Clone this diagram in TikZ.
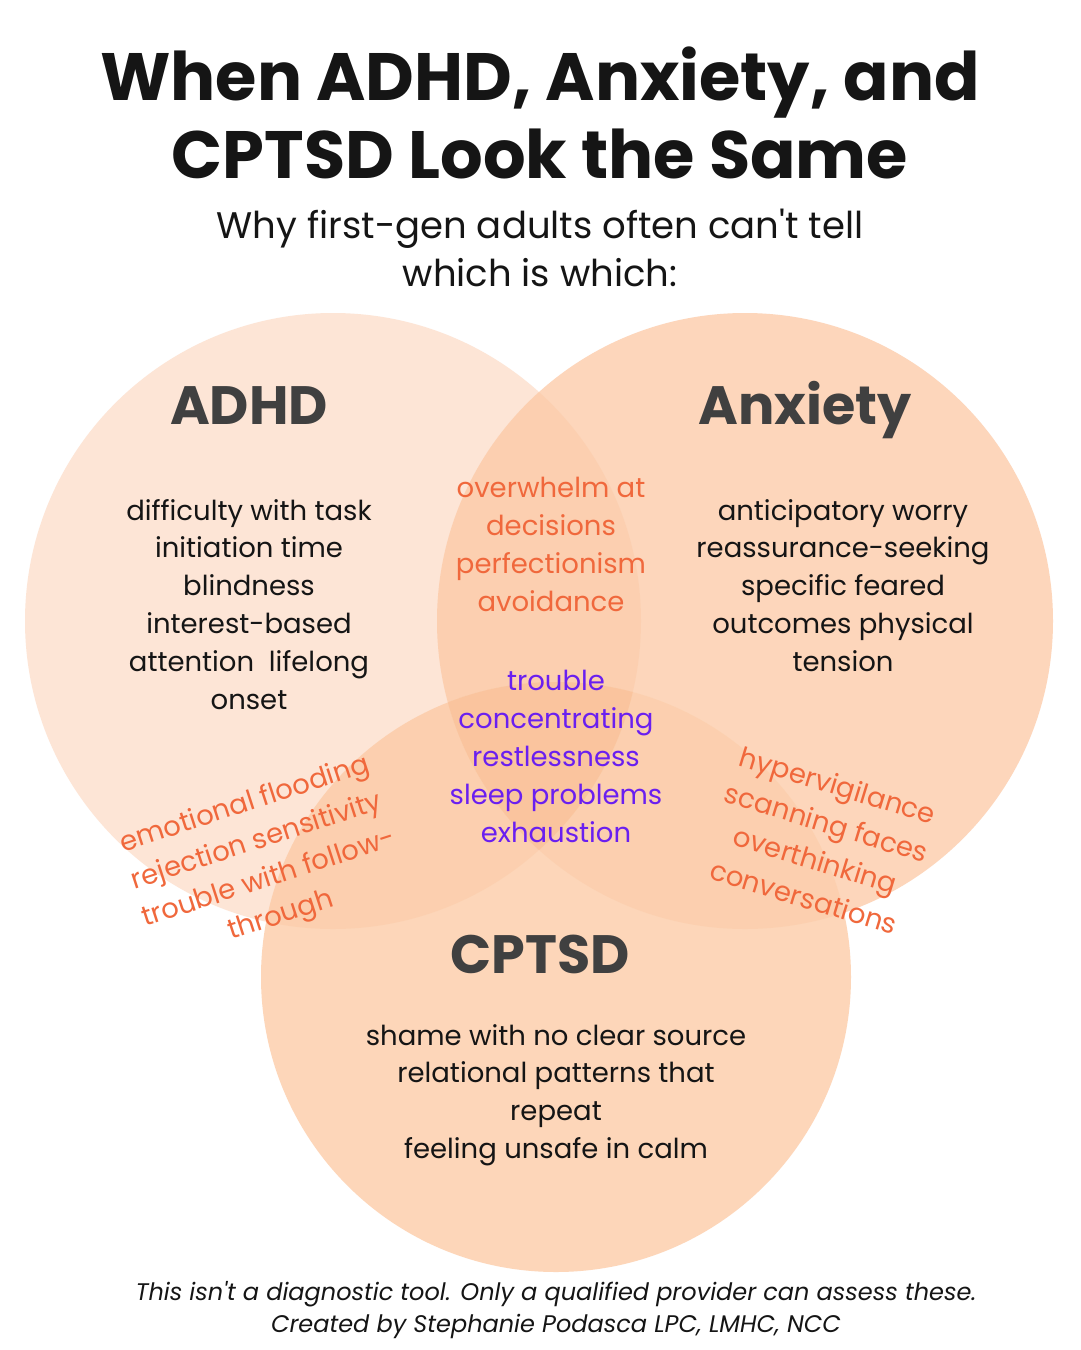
\documentclass[tikz,border=0pt]{standalone}
\usepackage{fontspec}
\setmainfont{Poppins}
\definecolor{peach}{HTML}{F9A66C}
\definecolor{cA}{HTML}{FDE5D6}
\definecolor{cX}{HTML}{FDD6BB}
\definecolor{cC}{HTML}{FDD6B9}
\definecolor{ink}{HTML}{151515}
\definecolor{lab}{HTML}{404040}
\definecolor{orng}{HTML}{F0683C}
\definecolor{purp}{HTML}{6A1FF0}
\tikzset{
  ttl/.style={font=\fontsize{67}{80}\selectfont\bfseries, text=ink, anchor=base, inner sep=0pt},
  sub/.style={font=\fontsize{37}{44}\selectfont, text=ink, anchor=base, inner sep=0pt},
  clab/.style={font=\fontsize{54}{64}\selectfont\bfseries, text=lab, anchor=base, inner sep=0pt},
  body/.style={font=\fontsize{27.5}{38}\selectfont, text=ink, anchor=base, inner sep=0pt},
  orb/.style={body, text=orng},
  pub/.style={body, text=purp},
  rot/.style={font=\fontsize{27.5}{39}\selectfont, text=orng, align=center, inner sep=0pt},
  foot/.style={font=\fontsize{24}{30}\selectfont\itshape, text=ink, anchor=base, inner sep=0pt},
  tint/.style={fill=peach, fill opacity=0.13}
}
\begin{document}
\begin{tikzpicture}[x=1pt,y=-1pt]
\useasboundingbox (0,0) rectangle (1080,1350);
\fill[white] (0,0) rectangle (1080,1350);
% circles
\coordinate (cadhd) at (333,621);
\coordinate (canx) at (745,621);
\coordinate (ccpt) at (556,977);
\fill[cA] (cadhd) circle (308pt);
\fill[cX] (canx) circle (308pt);
\fill[cC] (ccpt) circle (295pt);
% overlaps
\begin{scope}
  \clip (cadhd) circle (308pt);
  \fill[tint] (canx) circle (308pt);
  \fill[tint] (ccpt) circle (295pt);
\end{scope}
\begin{scope}
  \clip (canx) circle (308pt);
  \fill[tint] (ccpt) circle (295pt);
\end{scope}
% title
\node[ttl] (title1) at (540,100) {When ADHD, Anxiety, and};
\node[ttl] (title2) at (540,178) {CPTSD Look the Same};
\node[sub] (sub1) at (540,238) {Why first-gen adults often can\textquotesingle t tell};
\node[sub] (sub2) at (540,286) {which is which:};
% labels
\node[clab] (adhdlab) at (249,424) {ADHD};
\node[clab] (anxlab) at (805,424) {Anxiety};
\node[clab] (cptsdlab) at (540,973) {CPTSD};
% ADHD list
\foreach \t [count=\i] in {difficulty with task, initiation time, blindness, interest-based, attention\ \ lifelong, onset}
  \node[body] (adhd\i) at (249,{520+37.8*(\i-1)}) {\t};
% Anxiety list
\foreach \t [count=\i] in {anticipatory worry, reassurance-seeking, specific feared, outcomes physical, tension}
  \node[body] (anx\i) at (843,{520+37.8*(\i-1)}) {\t};
% ADHD & Anxiety overlap
\foreach \t [count=\i] in {overwhelm at, decisions, perfectionism, avoidance}
  \node[orb] (aa\i) at (551,{497+38*(\i-1)}) {\t};
% centre
\foreach \t [count=\i] in {trouble, concentrating, restlessness, sleep problems, exhaustion}
  \node[pub] (ctr\i) at (556,{690+38*(\i-1)}) {\t};
% CPTSD list
\foreach \t [count=\i] in {shame with no clear source, relational patterns that, repeat, feeling unsafe in calm}
  \node[body] (cp\i) at (556,{1045+37.8*(\i-1)}) {\t};
% rotated overlaps
\node[rot, rotate=18] (ac) at (263,861) {emotional flooding\\rejection sensitivity\\trouble with follow-\\through};
\node[rot, rotate=-17] (xc) at (821,841) {hypervigilance\\scanning faces\\overthinking\\conversations};
% footer
\node[foot] (foot1) at (556,1300) {This isn\textquotesingle t a diagnostic tool. Only a qualified provider can assess these.};
\node[foot] (foot2) at (556,1332) {Created by Stephanie Podasca LPC, LMHC, NCC};
\end{tikzpicture}
\end{document}
